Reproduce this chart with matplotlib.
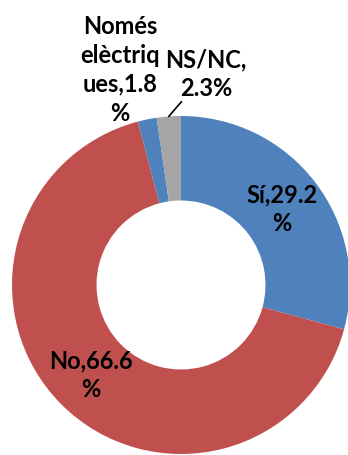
import numpy as np
import matplotlib
matplotlib.use('Agg')
import matplotlib.pyplot as plt

# dades
categories = ['Sí', 'No', 'Només\nelèctriq\nues', 'NS/NC']
valors = [29.2, 66.6, 1.8, 2.3]
etiquetes = ['Sí,29.2\n%', 'No,66.6\n%', 'Només\nelèctriq\nues,1.8\n%', 'NS/NC,\n2.3%']
colors = ['#4F81BD', '#C0504D', '#4F81BD', '#A5A5A5']

plt.rcParams['font.family'] = ['Lato', 'DejaVu Sans']

W, H = 348, 456
R = 169.0           # radi en pixels
cx, cy = 181, 286   # centre en pixels (des de dalt)

fig = plt.figure(figsize=(W / 100, H / 100), dpi=100)
ax = fig.add_axes([0, 0, 1, 1])

wedges, _ = ax.pie(valors, colors=colors, startangle=90, counterclock=False,
                   radius=1.0, wedgeprops=dict(width=0.5, linewidth=0))

ax.set_aspect('auto')
ax.set_xlim(-cx / R, (W - cx) / R)
ax.set_ylim(-(H - cy) / R, cy / R)
ax.axis('off')

fs = 17
ls = 1.3
# etiquetes dins l'anell
for w, txt in zip(wedges[:2], etiquetes[:2]):
    ang = np.deg2rad((w.theta1 + w.theta2) / 2)
    ax.text(0.75 * np.cos(ang), 0.75 * np.sin(ang), txt, ha='center', va='center',
            fontsize=fs, fontweight='bold', linespacing=ls, color='black')

# etiquetes de les porcions petites
def px(x, y):
    return ((x - cx) / R, (cy - y) / R)

ax.text(*px(120, 70), etiquetes[2], ha='center', va='center',
        fontsize=fs, fontweight='bold', linespacing=ls)

w = wedges[3]
ang = np.deg2rad((w.theta1 + w.theta2) / 2)
ax.annotate(etiquetes[3], xy=(np.cos(ang), np.sin(ang)), xytext=px(206, 74),
            ha='center', va='center', fontsize=fs, fontweight='bold', linespacing=ls,
            arrowprops=dict(arrowstyle='-', color='black', lw=1.2, shrinkA=18, shrinkB=0))

fig.savefig('out.png', dpi=100)
